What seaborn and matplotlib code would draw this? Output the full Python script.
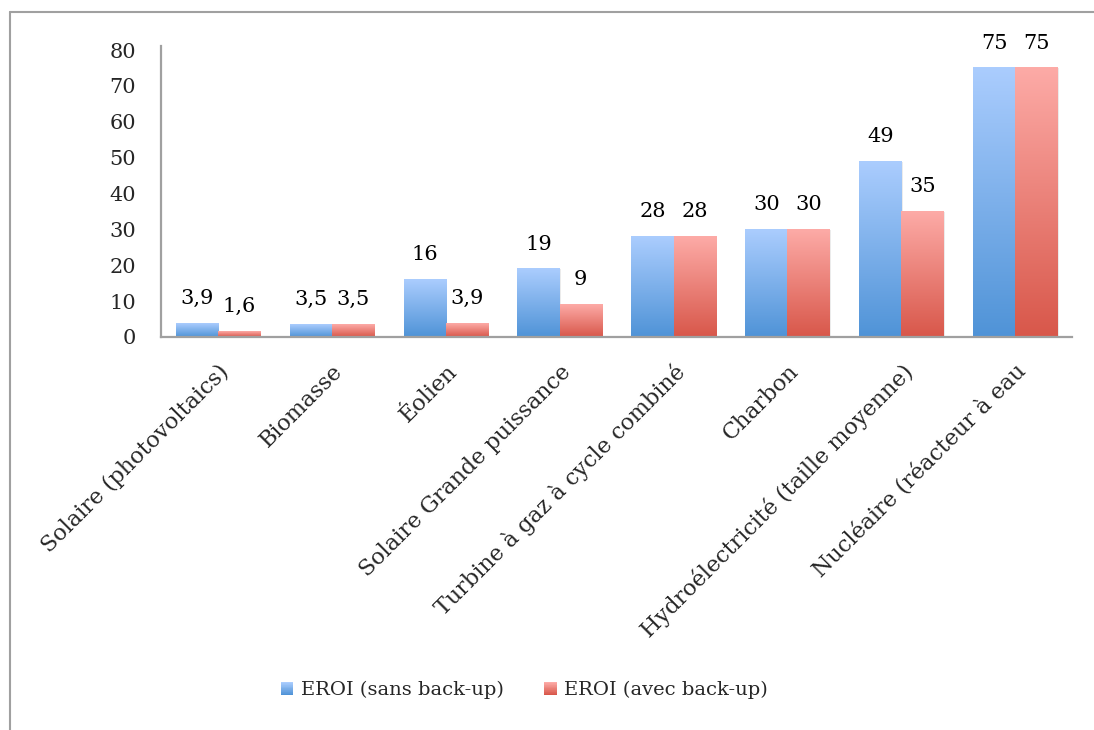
import numpy as np
import pandas as pd
import matplotlib
matplotlib.use("Agg")
import matplotlib.pyplot as plt
import matplotlib.colors as mcolors
from matplotlib.patches import Rectangle
from matplotlib.legend_handler import HandlerBase
from matplotlib.lines import Line2D
import seaborn as sns

categories = ["Solaire (photovoltaics)", "Biomasse", "Éolien", "Solaire Grande puissance",
              "Turbine à gaz à cycle combiné", "Charbon", "Hydroélectricité (taille moyenne)",
              "Nucléaire (réacteur à eau"]
series_names = ["EROI (sans back-up)", "EROI (avec back-up)"]
sans_backup = [3.9, 3.5, 16, 19, 28, 30, 49, 75]
avec_backup = [1.6, 3.5, 3.9, 9, 28, 30, 35, 75]
yticks = [0, 10, 20, 30, 40, 50, 60, 70, 80]

grad_colors = {
    series_names[0]: ("#abcdfe", "#4f93d7"),
    series_names[1]: ("#fdaba7", "#d8574a"),
}

sns.set_theme(style="white")
plt.rcParams["font.family"] = ["DejaVu Serif", "Liberation Serif"]

df = pd.DataFrame({
    "cat": categories * 2,
    "series": [series_names[0]] * len(categories) + [series_names[1]] * len(categories),
    "val": sans_backup + avec_backup,
})

fig = plt.figure(figsize=(10.94, 7.30), dpi=100)
ax = fig.add_axes([0.1472, 1 - 337 / 730, 0.98 - 0.1472, (337 - 50) / 730])

sns.barplot(data=df, x="cat", y="val", hue="series", order=categories, hue_order=series_names,
            palette=[grad_colors[s][1] for s in series_names], width=0.74, saturation=1,
            legend=False, ax=ax, linewidth=0)

ax.set_ylim(0, 80)
ax.set_xlim(-0.5, len(categories) - 0.5)
xlim, ylim = ax.get_xlim(), ax.get_ylim()

def grad_img(top, bottom, n=256):
    c1 = np.array(mcolors.to_rgb(top))
    c2 = np.array(mcolors.to_rgb(bottom))
    t = np.linspace(0, 1, n)[:, None]
    return (c1 * (1 - t) + c2 * t)[:, None, :]

for cont, s in zip(ax.containers, series_names):
    top, bottom = grad_colors[s]
    img = grad_img(top, bottom)
    for p in cont.patches:
        x, y0 = p.get_x(), p.get_y()
        w, h = p.get_width(), p.get_height()
        # soft shadow
        ax.add_patch(Rectangle((x + 0.012, y0), w, h - 0.15, facecolor="#000000", alpha=0.08,
                               linewidth=0, zorder=1.5))
        ax.imshow(img, extent=[x, x + w, y0, y0 + h], aspect="auto", zorder=2,
                  interpolation="bilinear")
        p.set_visible(False)

ax.set_xlim(xlim)
ax.set_ylim(ylim)
ax.set_aspect("auto")

for cont, vals in zip(ax.containers, [sans_backup, avec_backup]):
    labels = [f"{v:g}".replace(".", ",") for v in vals]
    ax.bar_label(cont, labels=labels, padding=11, fontsize=15, color="black")

ax.set_yticks(yticks)
ax.set_yticklabels([str(t) for t in yticks], fontsize=15)
ax.tick_params(axis="y", length=0, pad=18)
ax.tick_params(axis="x", length=0, pad=17)
ax.set_xticks(range(len(categories)))
ax.set_xticklabels(categories, rotation=45, ha="right", rotation_mode="anchor", fontsize=16)
ax.set_xlabel("")
ax.set_ylabel("")

for side in ["top", "right"]:
    ax.spines[side].set_visible(False)
for side in ["left", "bottom"]:
    ax.spines[side].set_color("#a0a0a0")
    ax.spines[side].set_linewidth(1.6)
ax.spines["left"].set_bounds(0, 81)

class HandlerGradient(HandlerBase):
    def __init__(self, top, bottom):
        super().__init__()
        self.top, self.bottom = top, bottom

    def create_artists(self, legend, orig_handle, xdescent, ydescent, width, height, fontsize, trans):
        n = 20
        c1 = np.array(mcolors.to_rgb(self.top))
        c2 = np.array(mcolors.to_rgb(self.bottom))
        size = height * 0.95
        x0 = xdescent + width - size
        arts = []
        for i in range(n):
            t = i / (n - 1)
            col = c1 * (1 - t) + c2 * t
            r = Rectangle((x0, ydescent + size * (1 - (i + 1) / n)), size, size / n + 0.05,
                          facecolor=col, edgecolor="none", transform=trans)
            arts.append(r)
        return arts

h1 = Rectangle((0, 0), 1, 1)
h2 = Rectangle((0, 0), 1, 1)
fig.legend([h1, h2], series_names, loc="center", bbox_to_anchor=(0.479, 0.055), ncol=2,
           frameon=False, fontsize=14, handlelength=0.7, handletextpad=0.4, columnspacing=2.0,
           handler_map={h1: HandlerGradient(*grad_colors[series_names[0]]),
                        h2: HandlerGradient(*grad_colors[series_names[1]])})

# outer chart frame (top and left edges visible)
fig.add_artist(Line2D([10 / 1094, 1.0], [1 - 12 / 730, 1 - 12 / 730], transform=fig.transFigure,
                      color="#a0a0a0", linewidth=1.5))
fig.add_artist(Line2D([10 / 1094, 10 / 1094], [0, 1 - 12 / 730], transform=fig.transFigure,
                      color="#a0a0a0", linewidth=1.5))

fig.savefig("out.png", dpi=100)
